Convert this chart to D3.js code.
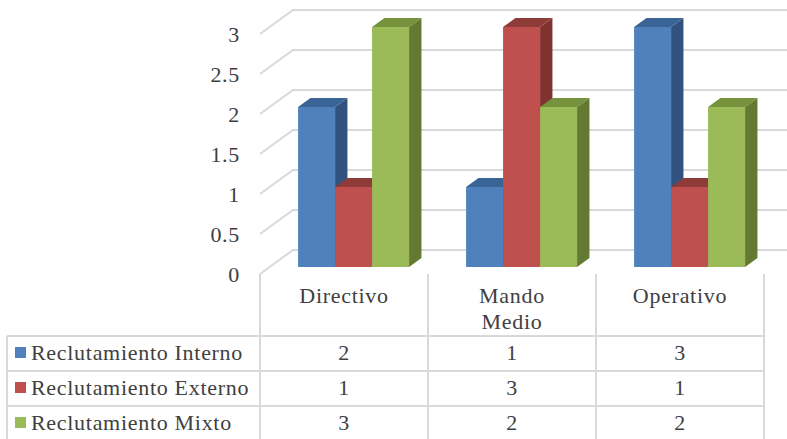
<!DOCTYPE html>
<html><head><meta charset="utf-8">
<script src="https://cdn.jsdelivr.net/npm/d3@7"></script>
<style>html,body{margin:0;padding:0;background:#fff;}svg{display:block;}
text{font-family:"Liberation Serif","Times New Roman",Tinos,"DejaVu Serif",serif;letter-spacing:0.7px;}</style>
</head><body><div id="chart"></div>
<script>
const categories = ["Directivo", "Mando Medio", "Operativo"];
const seriesNames = ["Reclutamiento Interno", "Reclutamiento Externo", "Reclutamiento Mixto"];
const interno = [2, 1, 3];
const externo = [1, 3, 1];
const mixto = [3, 2, 2];
const yTicks = [0, 0.5, 1, 1.5, 2, 2.5, 3];
const yTickLabels = ["0", "0.5", "1", "1.5", "2", "2.5", "3"];

const series = [interno, externo, mixto];
const colors = ["#4F81BD", "#C0504D", "#9BBB59"];
const topColors = ["#3B6496", "#8F3B39", "#76923C"];
const sideColors = ["#31527E", "#7F3331", "#627A32"];

const W = 787, H = 439;
const svg = d3.select("#chart").append("svg").attr("width", W).attr("height", H);
const fs = 22;
const textColor = "#404040";
const gridColor = "#D9D9D9";

const x = d3.scaleBand().domain(categories).range([260, 764]);
const y = d3.scaleLinear().domain([0, 3]).range([274, 34]);
const DX = 33, DY = 24; // full depth offset
const proj = (px, v, z) => [px + z * DX, y(v) - z * DY];

// gridlines (side wall + back wall)
yTicks.forEach(t => {
  const f = proj(x.range()[0], t, 0), b = proj(x.range()[0], t, 1), r = proj(800, t, 1);
  svg.append("polyline")
    .attr("points", [f, b, r].map(p => p.join(",")).join(" "))
    .attr("fill", "none").attr("stroke", gridColor).attr("stroke-width", 2);
});

// y tick labels
yTicks.forEach((t, i) => {
  svg.append("text").attr("x", 240).attr("y", y(t) + 8)
    .attr("text-anchor", "end")
    .attr("font-size", fs).attr("fill", textColor)
    .text(yTickLabels[i]);
});

// bars
const z0 = 0.29, z1 = 0.665;
const barW = 37;
categories.forEach((c, ci) => {
  const center = x(c) + x.bandwidth() / 2;
  series.forEach((s, si) => {
    const v = s[ci];
    const xl = center - barW * 1.5 + si * barW, xr = xl + barW;
    const fl0 = proj(xl, 0, z0), fr0 = proj(xr, 0, z0), flv = proj(xl, v, z0), frv = proj(xr, v, z0);
    const blv = proj(xl, v, z1), brv = proj(xr, v, z1), br0 = proj(xr, 0, z1);
    const poly = pts => pts.map(p => p.join(",")).join(" ");
    svg.append("polygon").attr("points", poly([fr0, frv, brv, br0])).attr("fill", sideColors[si]);
    svg.append("polygon").attr("points", poly([flv, frv, brv, blv])).attr("fill", topColors[si]);
    svg.append("polygon").attr("points", poly([fl0, fr0, frv, flv])).attr("fill", colors[si]);
  });
});

// data table
const colX = [7, 260, 428, 596, 764];
const headTop = 274, rowY = [336, 371, 406, 441];
const g = svg.append("g").attr("stroke", gridColor).attr("stroke-width", 2);
rowY.forEach(r => g.append("line").attr("x1", colX[0]).attr("x2", colX[4]).attr("y1", r).attr("y2", r));
g.append("line").attr("x1", colX[0]).attr("x2", colX[0]).attr("y1", rowY[0]).attr("y2", 441);
colX.slice(1).forEach(cx => g.append("line").attr("x1", cx).attr("x2", cx).attr("y1", headTop).attr("y2", 441));

// category headers
categories.forEach(c => {
  const cx = x(c) + x.bandwidth() / 2;
  const words = c.split(" ");
  const t = svg.append("text").attr("x", cx).attr("y", 303)
    .attr("text-anchor", "middle").attr("font-size", fs).attr("fill", textColor);
  if (words.length > 1) {
    words.forEach((w, i) => t.append("tspan").attr("x", cx).attr("dy", i === 0 ? 0 : 26).text(w));
  } else t.text(c);
});

// rows
seriesNames.forEach((name, si) => {
  const base = [360, 395, 430][si];
  svg.append("rect").attr("x", 15).attr("y", base - 13).attr("width", 11).attr("height", 11).attr("fill", colors[si]);
  svg.append("text").attr("x", 31).attr("y", base).attr("font-size", fs)
    .attr("fill", textColor).text(name);
  categories.forEach((c, ci) => {
    svg.append("text").attr("x", x(c) + x.bandwidth() / 2).attr("y", base)
      .attr("text-anchor", "middle").attr("font-size", fs)
      .attr("fill", textColor).text(series[si][ci]);
  });
});
</script></body></html>
